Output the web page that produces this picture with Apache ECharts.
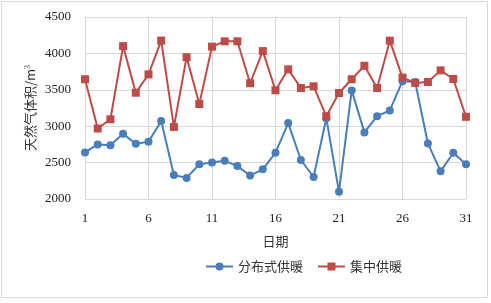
<!DOCTYPE html>
<html>
<head>
<meta charset="utf-8">
<script src="https://cdn.jsdelivr.net/npm/echarts@6/dist/echarts.min.js"></script>
<style>
  html, body { margin: 0; padding: 0; background: #fff; }
  #chart { width: 491px; height: 303px; }
</style>
</head>
<body>
<div id="chart"></div>
<script>
// 日期 1..31
const days = [];
for (let d = 1; d <= 31; d++) days.push(String(d));

// 分布式供暖
const distributed = [2640, 2750, 2740, 2895, 2760, 2785, 3070, 2330, 2290, 2478, 2500, 2525, 2452,
  2322, 2408, 2636, 3043, 2536, 2302, 3110, 2098, 3492, 2915, 3138, 3216, 3618, 3608, 2763, 2380, 2636, 2477];
// 集中供暖
const central = [3645, 2968, 3095, 4100, 3460, 3712, 4176, 2990, 3948, 3305, 4093, 4166, 4166,
  3590, 4032, 3494, 3781, 3525, 3548, 3137, 3456, 3645, 3830, 3525, 4175, 3668, 3595, 3607, 3767, 3648, 3129];

const chart = echarts.init(document.getElementById('chart'));
const serif = 'Liberation Serif';
const cjk = 'Noto Sans CJK SC';

chart.setOption({
  animation: false,
  graphic: [{
    type: 'rect',
    shape: { x: 1.5, y: 1.5, width: 486, height: 296 },
    style: { fill: 'none', stroke: '#d9d9d9', lineWidth: 1 }
  }],
  grid: { left: 85, right: 25, top: 17, bottom: 104 },
  legend: {
    bottom: 25,
    left: 200,
    itemWidth: 27,
    itemHeight: 10,
    itemGap: 14,
    textStyle: { fontFamily: cjk, fontSize: 13, color: '#333' },
    data: ['分布式供暖', '集中供暖']
  },
  xAxis: {
    type: 'category',
    data: days,
    boundaryGap: false,
    name: '日期',
    nameLocation: 'middle',
    nameGap: 36,
    nameMoveOverlap: false,
    nameTextStyle: { fontFamily: cjk, fontSize: 13, color: '#333' },
    axisLine: { lineStyle: { color: '#d9d9d9' } },
    axisTick: { show: false },
    axisLabel: { interval: 4, fontFamily: serif, fontSize: 13, color: '#222', margin: 13 },
    splitLine: { show: true, interval: 4, lineStyle: { color: '#d9d9d9' } }
  },
  yAxis: {
    type: 'value',
    min: 2000,
    max: 4500,
    interval: 500,
    name: '天然气体积/m{sup|3}',
    nameLocation: 'middle',
    nameGap: 48,
    nameMoveOverlap: false,
    nameTextStyle: {
      fontFamily: cjk, fontSize: 13, color: '#333',
      rich: { sup: { fontSize: 8, verticalAlign: 'top', color: '#333', fontFamily: serif } }
    },
    axisLine: { show: true, lineStyle: { color: '#d9d9d9' } },
    axisTick: { show: false },
    axisLabel: { formatter: v => String(v), fontFamily: serif, fontSize: 13, color: '#222', margin: 14 },
    splitLine: { lineStyle: { color: '#d9d9d9' } }
  },
  series: [
    {
      name: '分布式供暖',
      type: 'line',
      data: distributed,
      symbol: 'circle',
      symbolSize: 8,
      itemStyle: { color: '#4a7ebb' },
      lineStyle: { color: '#4a7ebb', width: 2 }
    },
    {
      name: '集中供暖',
      type: 'line',
      data: central,
      symbol: 'rect',
      symbolSize: 8,
      itemStyle: { color: '#be4b48' },
      lineStyle: { color: '#be4b48', width: 2 }
    }
  ]
});
</script>
</body>
</html>
